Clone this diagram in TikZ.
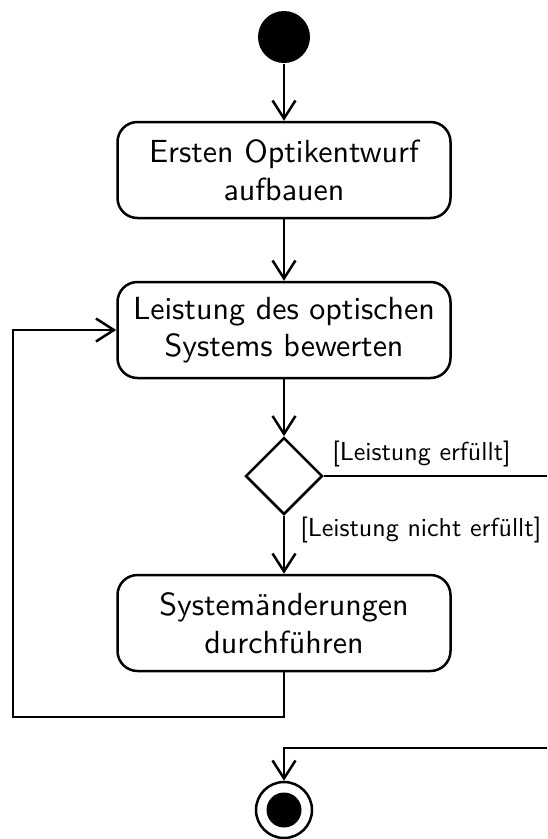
\documentclass[tikz,border=0pt]{standalone}
\usepackage{fontspec}
\setsansfont{lmsans10-regular}[Extension=.otf]
\usetikzlibrary{arrows.meta,shapes.geometric}
\begin{document}
\begin{tikzpicture}[x=1pt,y=-1pt,
  line width=2.5pt,
  flow/.style={-{Straight Barb[length=18pt,width=23pt]}},
  action/.style={draw,rectangle,rounded corners=20pt,minimum width=333pt,minimum height=96pt,
    align=center,font=\sffamily\fontsize{32}{37.5}\selectfont,inner sep=0pt},
  guard/.style={font=\sffamily\fontsize{26}{30}\selectfont,inner sep=0pt,anchor=west}]
  \useasboundingbox (0,0) rectangle (547,839);

  % initial and final states
  \node (start) [circle,fill=black,minimum size=52pt,inner sep=0pt] at (284,37) {};
  \node (end) [circle,draw,minimum size=56pt,inner sep=0pt] at (284,810) {};
  \fill (end.center) circle (17.5pt);

  % actions
  \node (b1) [action] at (284,170) {Ersten Optikentwurf\\aufbauen};
  \node (b2) [action] at (284,330) {Leistung des optischen\\Systems bewerten};
  \node (b3) [action] at (284,623) {Systemänderungen\\durchführen};

  % decision
  \node (dec) [diamond,draw,minimum width=77pt,minimum height=77pt,inner sep=0pt] at (284,476) {};

  % loose ends on the right edge
  \coordinate (outA) at (547,476);
  \coordinate (outB) at (547,748);
  \coordinate (loopL) at (13,717);

  % guards
  \node (g1) [guard] at (331,454) {[Leistung erfüllt]};
  \node (g2) [guard] at (299,530) {[Leistung nicht erfüllt]};

  % control flow
  \draw[flow] (start) -- (b1);
  \draw[flow] (b1) -- (b2);
  \draw[flow] (b2) -- (dec);
  \draw[flow] (dec) -- (b3);
  \draw (dec.east) -- (outA);
  \draw[flow] (b3.south) -- (b3.south |- loopL) -- (loopL) -- (loopL |- b2.west) -- (b2.west);
  \draw[flow] (outB) -- (end |- outB) -- (end);
\end{tikzpicture}
\end{document}
